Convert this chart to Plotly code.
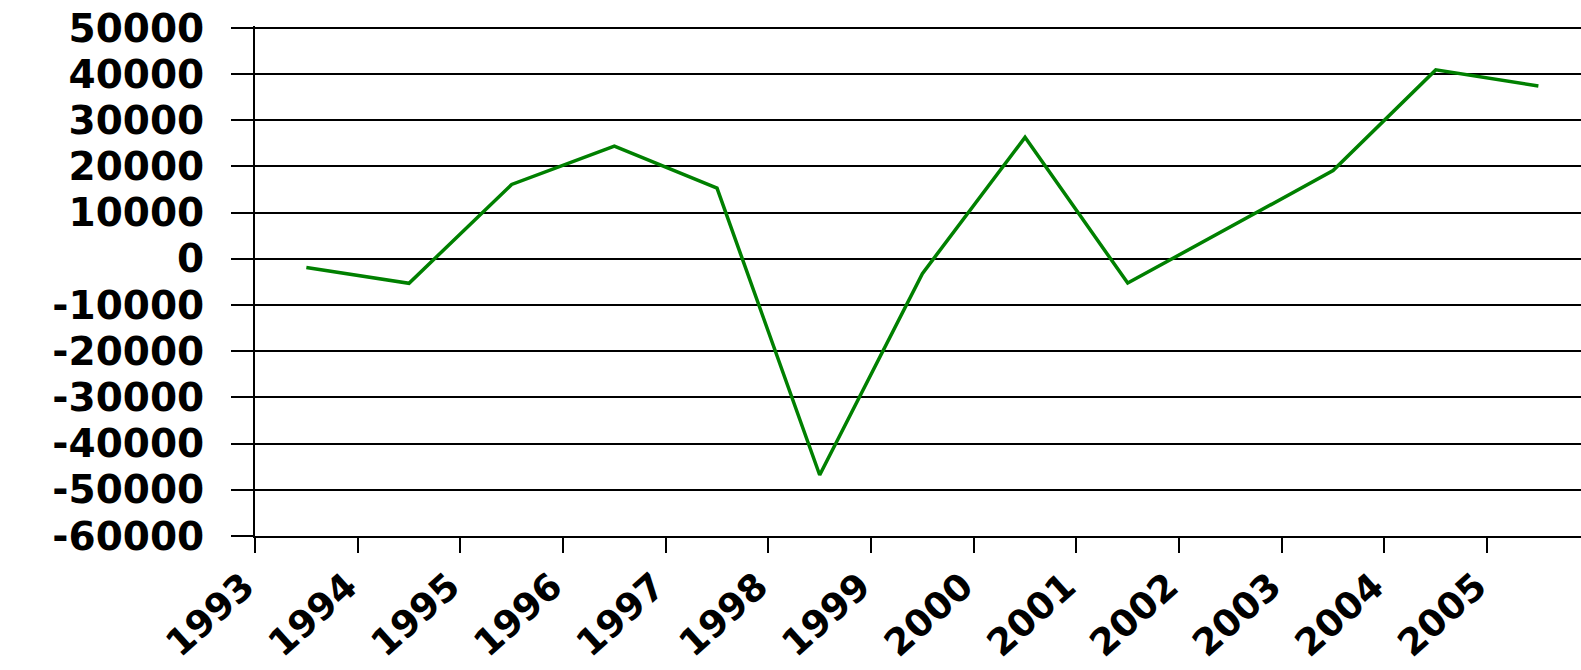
import plotly.graph_objects as go

years = ["1993", "1994", "1995", "1996", "1997", "1998", "1999",
         "2000", "2001", "2002", "2003", "2004", "2005"]
values = [-1900, -5300, 16100, 24400, 15300, -46800, -3200,
          26300, -5250, 7000, 19100, 40900, 37400]
y_ticks = [50000, 40000, 30000, 20000, 10000, 0, -10000, -20000,
           -30000, -40000, -50000, -60000]

fig = go.Figure()
fig.add_trace(go.Scatter(
    x=years, y=values, mode="lines",
    line=dict(color="#008000", width=3.5),
    showlegend=False, hoverinfo="x+y",
))

label_font = dict(family="DejaVu Sans", size=39, color="black", weight="bold")
xlabel_font = dict(family="DejaVu Sans", size=37, color="black", weight="bold")

fig.update_layout(
    width=1581, height=670,
    margin=dict(l=255, r=0, t=25.5, b=134),
    paper_bgcolor="white", plot_bgcolor="white",
    xaxis=dict(
        type="category",
        categoryorder="array", categoryarray=years,
        range=[-0.5, 12.415],
        tickson="boundaries",
        ticks="outside", ticklen=15, tickwidth=2, tickcolor="black",
        showline=True, linewidth=2, linecolor="black",
        showgrid=False, zeroline=False,
        tickangle=-42,
        ticklabelshift=-62,
        ticklabelstandoff=12,
        tickfont=xlabel_font,
        ticklabeloverflow="allow",
        automargin=False,
    ),
    yaxis=dict(
        range=[-60000, 50400],
        tickmode="array", tickvals=y_ticks,
        ticktext=[str(v) for v in y_ticks],
        ticks="outside", ticklen=22, tickwidth=1.5, tickcolor="black",
        showline=True, linewidth=2, linecolor="black",
        showgrid=True, gridcolor="black", gridwidth=1.5,
        zeroline=False,
        ticklabelstandoff=19,
        tickfont=label_font,
        ticklabeloverflow="allow",
        automargin=False,
    ),
)

fig.write_html("out.html", config={"displayModeBar": False},
               post_script="document.body.style.margin='0';")
